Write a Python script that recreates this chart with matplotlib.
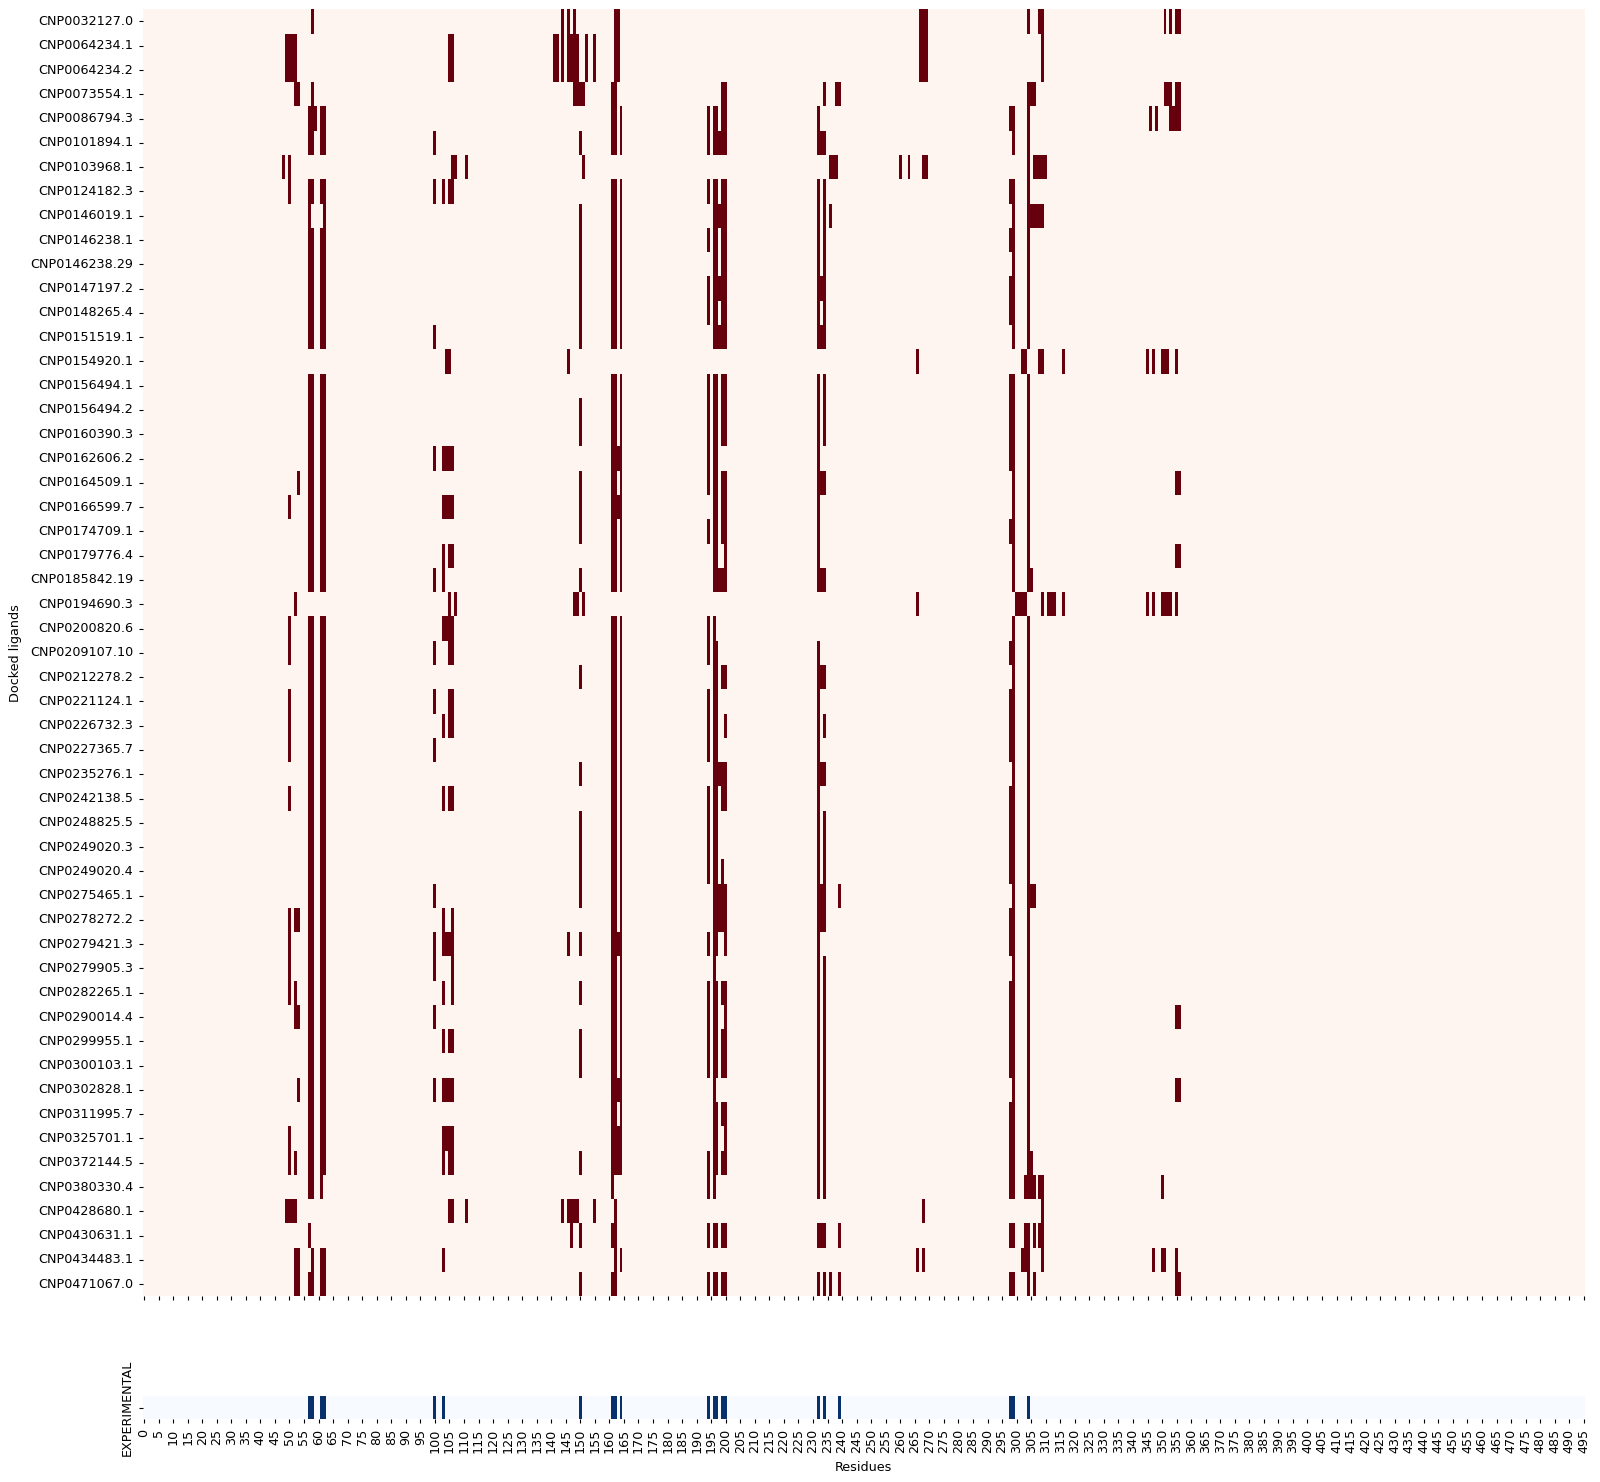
"""
Docking contact map: residues touched by each docked ligand,
with the experimental binding site shown underneath.
"""

import pandas as pd
import seaborn as sns
from matplotlib import pyplot as plt

ligands = [
    "CNP0032127.0", "CNP0064234.1", "CNP0064234.2", "CNP0073554.1", "CNP0086794.3",
    "CNP0101894.1", "CNP0103968.1", "CNP0124182.3", "CNP0146019.1", "CNP0146238.1",
    "CNP0146238.29", "CNP0147197.2", "CNP0148265.4", "CNP0151519.1", "CNP0154920.1",
    "CNP0156494.1", "CNP0156494.2", "CNP0160390.3", "CNP0162606.2", "CNP0164509.1",
    "CNP0166599.7", "CNP0174709.1", "CNP0179776.4", "CNP0185842.19", "CNP0194690.3",
    "CNP0200820.6", "CNP0209107.10", "CNP0212278.2", "CNP0221124.1", "CNP0226732.3",
    "CNP0227365.7", "CNP0235276.1", "CNP0242138.5", "CNP0248825.5", "CNP0249020.3",
    "CNP0249020.4", "CNP0275465.1", "CNP0278272.2", "CNP0279421.3", "CNP0279905.3",
    "CNP0282265.1", "CNP0290014.4", "CNP0299955.1", "CNP0300103.1", "CNP0302828.1",
    "CNP0311995.7", "CNP0325701.1", "CNP0372144.5", "CNP0380330.4", "CNP0428680.1",
    "CNP0430631.1", "CNP0434483.1", "CNP0471067.0",
]

n_residues = 496

# residues in contact with each ligand (same order as ligands)
contacts = [
    [58, 144, 146, 148, 162, 163, 267, 268, 269, 304, 308, 309, 351, 353, 355, 356],
    [49, 50, 51, 52, 105, 106, 141, 142, 144, 146, 147, 148, 149, 152, 155, 162, 163, 267, 268, 269, 309],
    [49, 50, 51, 52, 105, 106, 141, 142, 144, 146, 147, 148, 149, 152, 155, 162, 163, 267, 268, 269, 309],
    [52, 53, 58, 148, 149, 150, 151, 161, 162, 199, 200, 234, 238, 239, 304, 305, 306, 351, 352, 353, 355, 356],
    [57, 58, 59, 61, 62, 161, 162, 164, 194, 196, 197, 199, 200, 232, 298, 299, 304, 346, 348, 353, 354, 355, 356],
    [57, 58, 61, 62, 100, 150, 161, 162, 164, 194, 196, 197, 198, 199, 200, 232, 233, 234, 299, 304],
    [48, 50, 106, 107, 111, 151, 236, 237, 238, 260, 263, 268, 269, 304, 306, 307, 308, 309, 310],
    [50, 57, 58, 61, 62, 100, 103, 105, 106, 161, 162, 164, 194, 196, 197, 199, 200, 232, 234, 298, 299, 304],
    [57, 62, 150, 161, 162, 164, 196, 197, 198, 199, 200, 232, 234, 236, 299, 304, 305, 306, 307, 308, 309],
    [57, 58, 61, 62, 150, 161, 162, 164, 194, 196, 197, 199, 200, 232, 234, 298, 299, 304],
    [57, 58, 61, 62, 150, 161, 162, 164, 196, 197, 199, 200, 232, 234, 299, 304],
    [57, 58, 61, 62, 150, 161, 162, 164, 194, 196, 197, 198, 199, 200, 232, 233, 234, 298, 299, 304],
    [57, 58, 61, 62, 150, 161, 162, 164, 194, 196, 197, 199, 200, 232, 234, 298, 299, 304],
    [57, 58, 61, 62, 100, 150, 161, 162, 164, 196, 197, 198, 199, 200, 232, 233, 234, 299, 304],
    [104, 105, 146, 266, 302, 303, 308, 309, 316, 345, 347, 350, 351, 352, 355],
    [57, 58, 61, 62, 161, 162, 164, 194, 196, 197, 199, 200, 232, 234, 298, 299, 304],
    [57, 58, 61, 62, 150, 161, 162, 164, 194, 196, 197, 199, 200, 232, 234, 298, 299, 304],
    [57, 58, 61, 62, 150, 161, 162, 164, 194, 196, 197, 199, 200, 232, 234, 298, 299, 304],
    [57, 58, 61, 62, 100, 103, 104, 105, 106, 161, 162, 163, 164, 194, 196, 197, 232, 298, 299, 304],
    [53, 57, 58, 61, 62, 150, 161, 162, 164, 194, 196, 197, 199, 200, 232, 233, 234, 299, 304, 355, 356],
    [50, 57, 58, 61, 62, 103, 104, 105, 106, 150, 161, 162, 163, 164, 196, 197, 199, 200, 232, 299, 304],
    [57, 58, 61, 62, 150, 161, 162, 164, 194, 196, 197, 199, 200, 232, 298, 299, 304],
    [57, 58, 61, 62, 103, 105, 106, 161, 162, 164, 196, 197, 200, 232, 299, 304, 355, 356],
    [57, 58, 61, 62, 100, 103, 150, 161, 162, 164, 196, 197, 198, 199, 200, 232, 233, 234, 299, 304, 305],
    [52, 105, 107, 148, 149, 151, 266, 300, 301, 302, 303, 309, 311, 312, 313, 316, 345, 347, 350, 351, 352, 353, 355],
    [50, 57, 58, 61, 62, 103, 104, 105, 106, 161, 162, 164, 194, 196, 299, 304],
    [50, 57, 58, 61, 62, 100, 105, 106, 161, 162, 164, 194, 196, 197, 232, 298, 299, 304],
    [57, 58, 61, 62, 150, 161, 162, 164, 196, 197, 199, 200, 232, 233, 234, 299, 304],
    [50, 57, 58, 61, 62, 100, 105, 106, 161, 162, 164, 194, 196, 197, 232, 298, 299, 304],
    [50, 57, 58, 61, 62, 103, 105, 106, 161, 162, 164, 194, 196, 197, 200, 232, 234, 298, 299, 304],
    [50, 57, 58, 61, 62, 100, 161, 162, 164, 194, 196, 197, 232, 298, 299, 304],
    [57, 58, 61, 62, 150, 161, 162, 164, 196, 197, 198, 199, 200, 232, 233, 234, 299, 304],
    [50, 57, 58, 61, 62, 103, 105, 106, 161, 162, 164, 194, 196, 197, 199, 200, 232, 298, 299, 304],
    [57, 58, 61, 62, 150, 161, 162, 164, 194, 196, 197, 232, 234, 298, 299, 304],
    [57, 58, 61, 62, 150, 161, 162, 164, 194, 196, 197, 232, 234, 298, 299, 304],
    [57, 58, 61, 62, 150, 161, 162, 164, 194, 196, 197, 199, 232, 234, 298, 299, 304],
    [57, 58, 61, 62, 100, 150, 161, 162, 164, 196, 197, 198, 199, 200, 232, 233, 234, 239, 299, 304, 305, 306],
    [50, 52, 53, 57, 58, 61, 62, 103, 106, 161, 162, 164, 196, 197, 198, 199, 200, 232, 233, 234, 298, 299, 304],
    [50, 57, 58, 61, 62, 100, 103, 104, 105, 106, 146, 150, 161, 162, 163, 164, 194, 196, 197, 200, 232, 298, 299, 304],
    [50, 57, 58, 61, 62, 100, 106, 161, 162, 164, 196, 232, 234, 299, 304],
    [50, 52, 57, 58, 61, 62, 103, 106, 150, 161, 162, 164, 194, 196, 197, 199, 200, 232, 234, 298, 299, 304],
    [52, 53, 57, 58, 61, 62, 100, 161, 162, 164, 194, 196, 197, 200, 232, 234, 298, 299, 304, 355, 356],
    [57, 58, 61, 62, 103, 105, 106, 150, 161, 162, 164, 194, 196, 197, 199, 200, 232, 234, 298, 299, 304],
    [57, 58, 61, 62, 150, 161, 162, 164, 194, 196, 197, 199, 200, 232, 234, 298, 299, 304],
    [53, 57, 58, 61, 62, 100, 103, 104, 105, 106, 161, 162, 163, 164, 196, 232, 234, 299, 304, 355, 356],
    [57, 58, 61, 62, 161, 162, 164, 196, 197, 199, 200, 232, 234, 298, 299, 304],
    [50, 57, 58, 61, 62, 103, 104, 105, 106, 161, 162, 163, 164, 196, 197, 200, 232, 234, 298, 299, 304],
    [50, 52, 57, 58, 61, 62, 103, 105, 106, 150, 161, 162, 163, 164, 194, 196, 197, 199, 200, 232, 234, 298, 299, 304, 305],
    [57, 58, 61, 161, 194, 196, 232, 234, 298, 299, 303, 304, 305, 306, 308, 309, 350],
    [49, 50, 51, 52, 105, 106, 111, 144, 146, 147, 148, 149, 155, 162, 268, 309],
    [57, 147, 150, 161, 162, 194, 196, 197, 199, 200, 232, 233, 234, 239, 298, 299, 303, 304, 306, 308, 309],
    [52, 53, 58, 61, 62, 103, 162, 164, 266, 268, 302, 303, 304, 309, 347, 350, 351, 355],
    [52, 53, 57, 58, 61, 62, 150, 161, 162, 194, 196, 197, 199, 200, 232, 234, 236, 239, 298, 299, 304, 306, 355, 356],
]

# residues of the experimental (crystal) binding site
experimental_residues = [57, 58, 61, 62, 100, 103, 150, 161, 162, 164, 194, 196, 197,
                         199, 200, 232, 234, 239, 298, 299, 304]

df = pd.DataFrame(0, index=ligands, columns=range(n_residues))
for name, res in zip(ligands, contacts):
    df.loc[name, res] = 1

df_exp = pd.DataFrame(0, index=["EXPERIMENTAL"], columns=range(n_residues))
df_exp.loc["EXPERIMENTAL", experimental_residues] = 1

plt.rcParams["font.size"] = 9.2
plt.rcParams["xtick.major.size"] = 3.2
plt.rcParams["ytick.major.size"] = 3.2

fig = plt.figure(figsize=(16, 14.82), dpi=100)
ax = fig.add_axes([0.0891, 0.1253, 0.9017, 0.8684])
ax_exp = fig.add_axes([0.0891, 0.0422, 0.9017, 0.01586])

sns.heatmap(df, cmap="Reds", vmin=0, vmax=1, cbar=False, ax=ax,
            xticklabels=5, yticklabels=True)
ax.tick_params(axis="x", labelbottom=False)
ax.tick_params(axis="y", labelrotation=0)
ax.set_ylabel("Docked ligands")
ax.yaxis.set_label_coords(-0.0835, 0.5)

sns.heatmap(df_exp, cmap="Blues", vmin=0, vmax=1, cbar=False, ax=ax_exp,
            xticklabels=5, yticklabels=True)
ax_exp.tick_params(axis="x", labelrotation=90)
ax_exp.set_yticklabels(["EXPERIMENTAL"], rotation=90, va="center")
ax_exp.set_xlabel("Residues")
ax_exp.xaxis.set_label_coords(0.5, -1.76)

fig.savefig("out.png")
